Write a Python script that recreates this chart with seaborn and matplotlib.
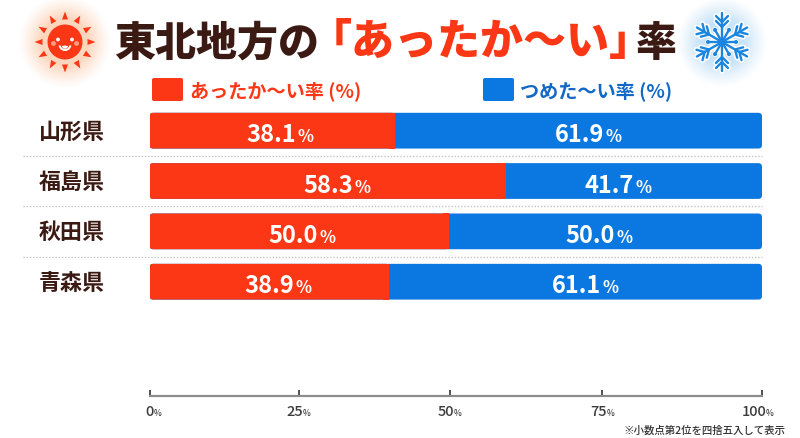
import numpy as np
import matplotlib
matplotlib.use("Agg")
import matplotlib.pyplot as plt
from matplotlib.patches import FancyBboxPatch, Polygon, Circle, Wedge, Rectangle
import pandas as pd
import seaborn as sns

prefectures = ["山形県", "福島県", "秋田県", "青森県"]
warm_drawn = [40.1, 58.2, 48.9, 39.1]
warm_labels = ["38.1", "58.3", "50.0", "38.9"]
cold_labels = ["61.9", "41.7", "50.0", "61.1"]
TOTAL = [100, 100, 100, 100]
tick_positions = [0, 24.4, 49.0, 73.9, 100]
tick_labels = ["0", "25", "50", "75", "100"]

# where each printed value sits along the axis, as the reference places them
warm_label_x = [23.9, 33.2, 27.5, 23.6]
cold_label_x = [74.2, 79.1, 76.0, 73.7]

RED = "#fb3716"
BLUE = "#0a78e0"
BROWN = "#3a1a12"
JP = ["Noto Sans CJK JP", "DejaVu Sans"]

sns.set_theme(style="white")
plt.rcParams["font.family"] = JP

W, H = 800, 439
fig = plt.figure(figsize=(W / 100, H / 100), dpi=100)
fig.patch.set_facecolor("white")

bg = fig.add_axes([0, 0, 1, 1], zorder=0)
bg.axis("off")


def glow(cx, cy, r, rgb, alpha):
    n = int(r * 2)
    xs = np.linspace(-r, r, n)
    X, Y = np.meshgrid(xs, xs)
    d = np.sqrt(X ** 2 + Y ** 2) / r
    a = np.clip((1 - d) / 0.5, 0, 1) ** 1.2 * alpha
    img = np.zeros((n, n, 4))
    img[..., :3] = rgb
    img[..., 3] = a
    bg.imshow(img, extent=(cx - r, cx + r, cy + r, cy - r), zorder=1, interpolation="bilinear")


# sun
sx, sy = 65, 43
glow(sx, sy, 47, (0.99, 0.80, 0.68), 0.8)
c = np.array([sx, sy])
for ang in np.arange(0, 360, 30) + 90:
    t = np.deg2rad(ang)
    u = np.array([np.cos(t), np.sin(t)])
    v = np.array([-u[1], u[0]])
    bg.add_patch(Polygon([c + u * 22.5 + v * 3, c + u * 22.5 - v * 3, c + u * 30.5], color=RED, zorder=2, lw=0))
bg.add_patch(Circle((sx, sy), 17.5, color=RED, zorder=2, lw=0))
for s in (-1, 1):
    bg.add_patch(Circle((sx + s * 7, sy - 2.5), 1.9, color="white", zorder=3, lw=0))
    bg.add_patch(Circle((sx + s * 11.5, sy + 1.5), 2.4, color="#ff9f85", zorder=3, lw=0))
bg.add_patch(Wedge((sx, sy + 2.5), 6.5, 10, 170, width=2.0, color="white", zorder=3, lw=0))
bg.add_patch(Wedge((sx, sy + 3.5), 3.2, 10, 170, color="white", zorder=3, lw=0))

# snowflake
fx, fy = 722, 43
glow(fx, fy, 46, (0.74, 0.87, 0.97), 0.8)
FL = "#1b86e0"
f = np.array([fx, fy])
segs = []
for ang in np.arange(30, 390, 60):
    t = np.deg2rad(ang)
    u = np.array([np.cos(t), np.sin(t)])
    segs.append((f, f + u * 29))
    for r0 in (15, 20):
        for s in (-1, 1):
            t2 = t + s * np.deg2rad(45)
            segs.append((f + u * r0, f + u * r0 + np.array([np.cos(t2), np.sin(t2)]) * 8.5))
for ang in np.arange(0, 360, 60):
    t = np.deg2rad(ang)
    u = np.array([np.cos(t), np.sin(t)])
    segs.append((f, f + u * 14))
for lw, col, z in ((4.0, "white", 2), (1.7, FL, 3)):
    for a, b in segs:
        bg.plot(*zip(a, b), color=col, lw=lw, zorder=z, solid_capstyle="round")
for ang in np.arange(0, 360, 60):
    t = np.deg2rad(ang)
    bg.add_patch(Circle(tuple(f + np.array([np.cos(t), np.sin(t)]) * 14), 2.0, color=FL, zorder=3, lw=0))
bg.add_patch(Circle((fx, fy), 3.5, color=FL, zorder=3, lw=0))

# title
bg.text(114, 44, "東北地方の", fontsize=29.5, fontweight="black", color=BROWN, va="center", ha="left", zorder=4)
bg.text(481, 42, "「あったか〜い」", fontsize=31, fontweight="black", color=RED, va="center", ha="center", zorder=4)
bg.text(636, 44, "率", fontsize=29.5, fontweight="black", color=BROWN, va="center", ha="left", zorder=4)

# legend
for x0, col, lab, tx, tc in [(152, RED, "あったか〜い率 (%)", 190, RED),
                             (483, BLUE, "つめた〜い率 (%)", 520, "#1268c4")]:
    bg.add_patch(FancyBboxPatch((x0, 79), 31, 23, boxstyle="round,pad=0,rounding_size=2", fc=col, ec="none", zorder=3))
    bg.text(tx, 91.5, lab, fontsize=13.8, fontweight="bold", color=tc, va="center", ha="left", zorder=4)

bg.set_xlim(0, W)
bg.set_ylim(H, 0)

# chart
ax = fig.add_axes([149.5 / W, 1 - 397 / H, (762 - 149.5) / W, (397 - 106.5) / H], zorder=2)
ax.patch.set_alpha(0)
df = pd.DataFrame({"pref": prefectures, "warm": warm_drawn, "total": TOTAL})
sns.barplot(df, y="pref", x="total", color=BLUE, saturation=1, width=0.71, ax=ax, order=prefectures)
sns.barplot(df, y="pref", x="warm", color=RED, saturation=1, width=0.71, ax=ax, order=prefectures)
ax.set_ylim(5.27, -0.5)
ax.set_xlim(0, 100)
ax.set_xlabel("")
ax.set_ylabel("")

# redraw the library's bars with rounded corners; the red end meeting the blue stays square
for p in list(ax.patches):
    x, y, w, h = p.get_x(), p.get_y(), p.get_width(), p.get_height()
    fc = p.get_facecolor()
    is_total = w >= 100
    p.set_visible(False)
    z = 2 if is_total else 3
    ax.add_patch(FancyBboxPatch((x, y), w, h, boxstyle="round,pad=0,rounding_size=0.6",
                                mutation_aspect=6.125 / 50.33, fc=fc, ec="none", zorder=z))
    if not is_total:
        ax.add_patch(Rectangle((x + w - 1, y), 1, h, fc=fc, ec="none", zorder=z))

# row labels, separators, value labels
for i, pref in enumerate(prefectures):
    ax.annotate(pref, (0, i), xytext=(-79.6, -0.4), xycoords="data", textcoords="offset points",
                ha="left", va="center", fontsize=15.8, fontweight="bold", color=BROWN, annotation_clip=False)
    for xc, s in ((warm_label_x[i], warm_labels[i]), (cold_label_x[i], cold_labels[i])):
        ax.text(xc, i + 0.21, s, fontsize=17, fontweight="bold", color="white", ha="right", va="baseline", zorder=5)
        ax.text(xc + 0.2, i + 0.21, "%", fontsize=12, fontweight="bold", color="white", ha="left", va="baseline", zorder=5)
    if i < len(prefectures) - 1:
        ax.plot([-20.7, 100], [i + 0.5, i + 0.5], color="#c4c4c4", lw=1.0, ls=(0, (1, 1.3)), clip_on=False, zorder=1)

sns.despine(ax=ax, left=True, top=True, right=True)
ax.spines["bottom"].set_color("#8c8c8c")
ax.spines["bottom"].set_linewidth(1.6)
ax.set_yticks([])
ax.set_xticks(tick_positions)
ax.set_xticklabels([])
ax.tick_params(axis="x", direction="in", length=4.5, width=1.3, color="#444444", bottom=True)
for tp, tl in zip(tick_positions, tick_labels):
    ax.annotate(tl, (tp, 0), xycoords=("data", "axes fraction"), xytext=(3, -11), textcoords="offset points",
                ha="right", va="center", fontsize=10.5, fontweight="medium", color="#3c3c3c",
                annotation_clip=False)
    ax.annotate("%", (tp, 0), xycoords=("data", "axes fraction"), xytext=(3, -12), textcoords="offset points",
                ha="left", va="center", fontsize=6, fontweight="medium", color="#3c3c3c",
                annotation_clip=False)

bg.text(785, 430.5, "※小数点第2位を四捨五入して表示", fontsize=7.5, color="#333333", va="center", ha="right",
        zorder=4, fontweight="medium")

fig.savefig("out.png", dpi=100)
